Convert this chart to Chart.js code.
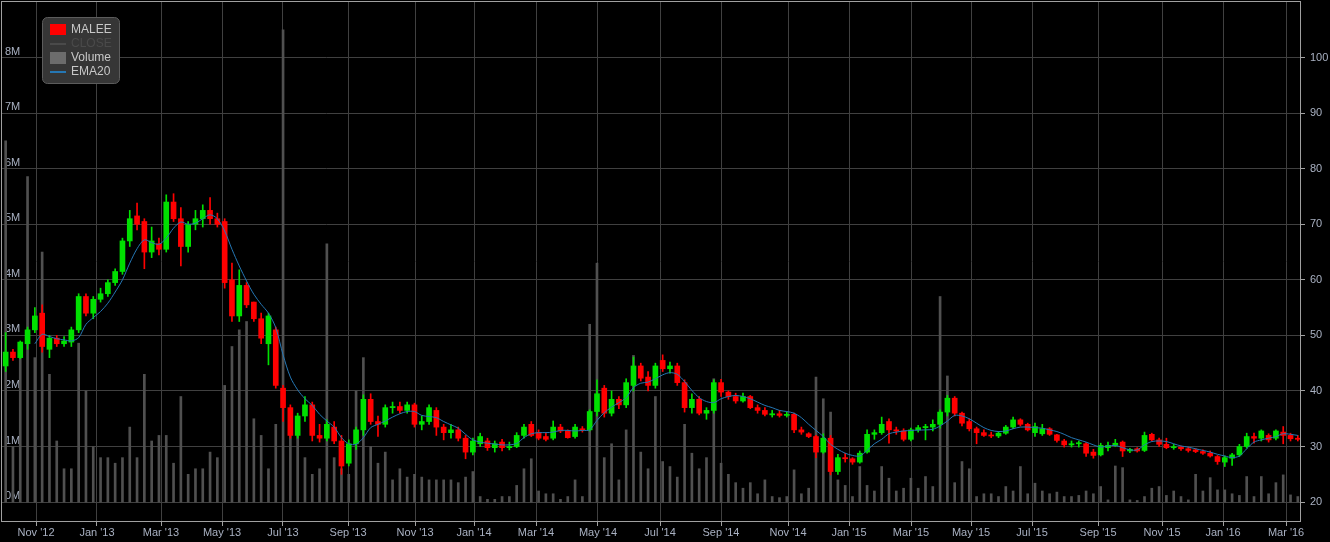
<!DOCTYPE html>
<html>
<head>
<meta charset="utf-8">
<title>MALEE</title>
<script src="https://cdn.jsdelivr.net/npm/chart.js@4.4.1/dist/chart.umd.min.js"></script>
<style>
html,body{margin:0;padding:0;background:#000;}
canvas{display:block;}
</style>
</head>
<body>
<canvas id="chart" width="1330" height="542"></canvas>
<script>

// weekly candles, Oct 2012 .. Mar 2016 (price in baht)
let open=[
44.5,47,46,48.5,51,54,47.5,49.5,48.5,48.8,
51,57,54,56.5,57.5,59.5,61.5,67,71.5,70.5,
65,66.5,65.5,74,71,66,70,71,72.5,71,
70.5,60,53.5,59,56,53,48.5,51,40.5,37,
32,35.5,37.5,32,31.5,33.5,31,27,30.5,33,
38.5,34.5,34,37,37.2,36.5,37.5,34,34.5,36.5,
33.5,32.5,33,31.5,29,30.5,31,29.8,30.8,29.8,
30,32,34,32.5,31.8,31.5,33.5,32.8,31.8,33.2,
33,36.3,40.5,36,38.5,37.5,41,44.5,42.5,41,
45.5,44,44.5,41.5,37,38.5,36,36.5,41.5,39.8,
39,38.2,39,37,36.5,35.7,35.9,35.6,35.8,33,
32.3,31.8,29,31.5,25.5,28,27.8,27.2,29,32.2,
32.5,34.5,33,32.8,31.3,33,33.4,33.5,34,36.2,
38.7,36,34.5,33.2,32.5,32,31.9,32.4,33.5,34.8,
34,32.5,32.3,33.2,32.1,31,30.3,30.5,30.5,29,
28.5,29.8,30.2,30.8,29.2,29.6,29.3,32.2,31.2,30.4,
29.8,29.9,29.6,29.4,29.1,28.8,28.2,27.2,27.9,28.5,
30,31.8,31.5,32,31.5,32.6,32,31.5];

let high=[
50.5,47.5,49,51.5,55,55.5,50,50,49.8,51.5,
57.5,57.5,57,58.5,60,62,67.5,72.5,73.8,71,
69.5,67.5,75.3,75.5,73,70.5,72.5,73.5,74.8,72,
71,63,61.8,59.5,56,54,54,51.5,41,37.5,
36,39,38,34,34.8,34.5,32,31.2,33.5,39.3,
39.5,35.5,37.5,38,38,38,37.8,35.5,37.5,37,
34,34,33.5,32,31.5,32.4,31.5,31,31.3,30.8,
32.5,34,34.5,33,32.5,34.6,34,33,34,33.6,
36.6,42,41,40,39,42.2,46.1,45,43.5,45,
46.5,45.2,45,42,39.5,39,37,42,42.1,40,
39.6,39.6,39.2,37.5,37,36.5,36.5,36.2,36,33.5,
32.5,32,32.3,32,28.6,28.8,28,29.2,33,33,
35.3,35,33.5,33.2,33.3,33.8,34,34.8,36.6,39.2,
39,36.2,35,33.5,33,32.6,32.7,33.8,35.3,35,
34.2,34.2,34,33.4,32.2,31.3,31,31,30.7,29.5,
30.6,30.8,31.3,31,29.7,29.8,32.6,32.4,31.5,31.5,
30.4,30.1,29.9,29.6,29.4,29.2,28.4,28.3,28.8,30.4,
32.4,32.4,33,32.3,33,33.6,32.4,32];

let low=[
43.5,45.5,45.8,47.5,50.5,47,46,48,48,48,
50.5,53.5,53,56,57,59,61,66,69,62,
64,64.5,65,70.5,62.5,65,69,69.5,70,69.5,
58.5,52.5,52.5,55,52.5,48.5,44.7,40.5,34.5,31.5,
31.5,34.5,31,30.8,31,30.5,25,26.5,29.5,32,
34,31.8,33.5,36,36,36,33.5,33,34,32,
31.2,31.5,31,27.8,28.5,30,29.3,29,29.2,29.4,
29.8,31.5,31.8,31.2,31,31.2,32.5,31.5,31.5,32.6,
32.8,35.5,35.3,35.5,36.8,37,40,41.8,40,40.5,
43.5,43.2,41,36.2,36,35.7,34.9,36,39,38.5,
37.8,38,36.8,36,35.5,35.3,35.3,35.3,32.5,32.2,
31.6,28,28.8,24.9,25,27.2,26.8,27,28.8,31.3,
32.2,30.6,32.2,31,31,32.6,31.2,32.8,33.3,35.5,
35.5,33.7,32.8,30.5,31.8,31.6,31.6,32.2,33.2,33.7,
32.8,31.8,32,32,30.8,29.9,29.9,29.9,28.2,27.9,
28.3,29.2,30,28.2,28.9,29,29.1,31,30,29.6,
29.5,29.3,29,28.9,28.6,28.1,26.8,26.4,26.6,28.2,
29.7,30.6,31,30.8,31.2,30.5,31,31];

let close=[
47,46,48.8,51,53.5,48,49.5,48.5,49,51,
57,54,56.5,57.5,59.5,61.5,67,71,70,65,
67,65.5,74,71,66,70,71,72.5,71,70,
59.5,53.5,59,55.5,53,49.5,53.5,41,37,32,
35.5,37.5,32,31.5,34,31,26.5,30.5,33,38.5,
34.5,34,37,37.2,36.5,37.5,34,34.5,37,33.5,
32.5,33,31.5,29,31,31.8,29.8,30.5,29.8,30,
32,33.5,32,31.5,31.3,33.5,32.8,31.6,33.5,33,
36.3,39.5,36,38.5,37.5,41.5,44.5,42.3,41,44.5,
44,44.5,41.5,37,38.5,36,36.5,41.5,39.8,39,
38.2,39,37,36.5,35.8,35.9,35.6,35.8,33,32.6,
31.8,29,31.5,25.5,28,27.8,27.2,28.8,32.2,32.5,
34,33,32.8,31.3,33,33.4,33.6,34,36.2,38.7,
36,34.2,33.2,32.5,32,31.9,32.4,33.5,34.8,34,
33,33.6,33.2,32.2,31.1,30.3,30.5,30.6,28.8,28.4,
30.2,30.2,30.6,29.2,29.5,29.2,32,31.2,30.4,29.8,
29.9,29.6,29.3,29.1,28.8,28.3,27.3,28,28.5,30,
31.8,31.5,32.8,31.2,32.8,32,31.4,31.3];

// EMA20 line as drawn on the picture
let ema20=[
null,null,null,null,48.5,50.2,49.8,49.4,49.2,49.0,
49.6,52.0,53.2,54.3,55.8,57.8,60.0,63.0,65.6,67.2,
66.7,66.4,67.5,69.3,70.4,70.0,70.2,71.0,71.7,71.0,
68.8,65.5,62.5,59.8,57.4,55.6,54.0,51.4,46.5,42.5,
40.2,38.6,37.4,35.8,34.6,33.5,31.6,30.5,30.4,31.6,
33.4,34.0,34.6,35.3,35.9,36.3,36.3,35.6,35.4,35.2,
34.5,33.9,33.3,32.2,31.2,30.8,30.6,30.45,30.3,30.3,
30.55,31.6,32.3,32.5,32.5,32.6,32.9,32.9,32.8,32.9,
33.0,34.7,36.1,37.1,37.9,38.8,40.6,41.4,41.6,42.2,
42.9,43.3,43.0,41.7,40.1,38.8,38.1,37.9,38.6,39.0,
39.2,39.0,38.6,38.0,37.4,37.0,36.5,36.3,36.0,35.2,
34.0,32.9,31.8,30.4,29.5,28.8,28.4,28.3,29.3,30.5,
31.3,32.3,32.6,32.8,32.9,32.95,33.0,33.1,33.7,34.6,
35.6,35.5,35.0,34.2,33.4,32.9,32.7,32.8,33.2,33.5,
33.5,33.4,33.3,33.0,32.7,32.2,31.6,31.2,30.8,30.3,
29.9,30.1,30.2,29.8,29.4,29.4,30.3,30.9,31.0,30.9,
30.5,30.1,29.9,29.6,29.3,29.0,28.6,28.3,28.0,28.3,
29.6,30.8,31.2,31.5,31.8,32.3,32.2,32.0];

// volume, millions of shares
let volume=[
6.5,1.0,2.6,5.86,2.6,4.5,2.3,1.1,0.6,0.6,
2.86,2.0,1.0,0.8,0.8,0.7,0.8,1.35,0.8,2.3,
1.1,1.2,1.2,0.7,1.9,0.5,0.6,0.6,0.9,0.8,
2.1,2.8,3.1,3.25,1.5,1.2,0.6,1.4,8.5,1.4,
1.2,0.8,0.5,0.6,4.65,0.8,0.6,0.5,2.0,2.6,
1.0,0.7,0.9,0.4,0.6,0.45,0.5,0.45,0.4,0.4,
0.4,0.4,0.35,0.45,0.55,0.1,0.05,0.05,0.1,0.1,
0.3,0.6,0.78,0.2,0.15,0.15,0.05,0.1,0.4,0.1,
3.2,4.3,0.8,1.05,0.4,1.3,2.64,0.9,0.6,1.9,
0.73,0.64,0.45,1.4,0.88,0.6,0.8,2.22,0.7,0.5,
0.35,0.25,0.35,0.15,0.4,0.1,0.08,0.1,0.58,0.15,
0.25,2.25,1.86,1.62,0.4,0.3,0.1,0.64,0.3,0.2,
0.64,0.43,0.2,0.25,0.43,0.25,0.46,0.28,3.7,2.27,
0.35,0.73,0.6,0.1,0.15,0.15,0.1,0.28,0.2,0.64,
0.15,0.34,0.2,0.15,0.18,0.1,0.1,0.12,0.2,0.15,
0.28,0.04,0.65,0.62,0.04,0.03,0.1,0.25,0.28,0.12,
0.2,0.1,0.04,0.5,0.2,0.44,0.22,0.22,0.15,0.12,
0.46,0.1,0.46,0.15,0.35,0.49,0.13,0.1];

// month ticks, position in weeks from first bar
let monthPos=[4.16,12.51,21.28,29.64,37.99,46.9,56.08,64.16,72.65,81.14,89.64,97.99,107.17,115.53,124.02,132.24,140.6,149.64,158.4,166.76,175.39];
let monthLabels=["Nov '12","Jan '13","Mar '13","May '13","Jul '13","Sep '13","Nov '13","Jan '14","Mar '14","May '14","Jul '14","Sep '14","Nov '14","Jan '15","Mar '15","May '15","Jul '15","Sep '15","Nov '15","Jan '16","Mar '16"];
let priceTicks=[20,30,40,50,60,70,80,90,100];
let volTicks=[0,1,2,3,4,5,6,7,8];

let UP="#00e000";
let DOWN="#ff0000";
let DOJI="#ffff00";
let GRID="#404040";
let FRAME="#a0a0a0";
let LABEL="#a9b1c2";

let weeks=close.map(function(v,i){return i;});
let colors=weeks.map(function(i){
if(close[i]>open[i]) return UP;
if(close[i]<open[i]) return DOWN;
return DOJI;
});

Chart.defaults.font.family='"Liberation Sans", Arial, sans-serif';
Chart.defaults.font.size=11;

function noPad(s){
s.paddingTop=0;
s.paddingBottom=0;
s.paddingLeft=0;
s.paddingRight=0;
}

// frame round the plot area
let frame={
id:"frame",
afterDraw:function(chart){
let a=chart.chartArea;
let c=chart.ctx;
c.save();
c.strokeStyle=FRAME;
c.lineWidth=1;
c.strokeRect(a.left-0.5,a.top-0.5,a.right-a.left+1,a.bottom-a.top+1);
c.restore();
}
};

// legend box in the top left corner
let legendBox={
id:"legendBox",
afterDraw:function(chart){
let c=chart.ctx;
c.save();
c.beginPath();
c.roundRect(42.5,17.5,77,66,5);
c.fillStyle="#363636";
c.fill();
c.strokeStyle="#5c5c5c";
c.lineWidth=1;
c.stroke();

c.font='12px "Liberation Sans", Arial, sans-serif';
c.textBaseline="middle";
c.textAlign="left";

c.fillStyle=DOWN;
c.fillRect(50,24,16,11);
c.fillStyle="#c8c8c8";
c.fillText("MALEE",71,30);

c.strokeStyle="#4a4a4a";
c.lineWidth=2;
c.beginPath();c.moveTo(50,44);c.lineTo(66,44);c.stroke();
c.fillStyle="#4a4a4a";
c.fillText("CLOSE",71,44);

c.fillStyle="#6c6c6c";
c.fillRect(50,52,16,12);
c.fillStyle="#c8c8c8";
c.fillText("Volume",71,58);

c.strokeStyle="#2577b4";
c.beginPath();c.moveTo(50,72);c.lineTo(66,72);c.stroke();
c.fillStyle="#c8c8c8";
c.fillText("EMA20",71,72);
c.restore();
}
};

new Chart(document.getElementById("chart"),{

type:"bar",

data:{
datasets:[
{
label:"EMA20",
type:"line",
data:weeks.map(function(i){return {x:i,y:ema20[i]};}),
borderColor:"#2577b4",
borderWidth:1,
pointRadius:0,
tension:0.3,
yAxisID:"yPrice",
order:1
},
{
label:"MALEE",
data:weeks.map(function(i){return {x:i,y:[open[i],close[i]]};}),
backgroundColor:colors,
barThickness:5,
minBarLength:1,
grouped:false,
yAxisID:"yPrice",
order:2
},
{
label:"wick",
data:weeks.map(function(i){return {x:i,y:[low[i],high[i]]};}),
backgroundColor:colors,
barThickness:1,
grouped:false,
yAxisID:"yPrice",
order:3
},
{
label:"CLOSE",
type:"line",
hidden:true,
data:weeks.map(function(i){return {x:i,y:close[i]};}),
borderColor:"#4a4a4a",
pointRadius:0,
yAxisID:"yPrice",
order:4
},
{
label:"Volume",
data:weeks.map(function(i){return {x:i,y:volume[i]};}),
backgroundColor:"#505050",
barThickness:2,
grouped:false,
yAxisID:"yVol",
order:5
}
]
},

options:{
responsive:false,
animation:false,
devicePixelRatio:1,
layout:{padding:{top:2,left:0,right:0,bottom:0}},
plugins:{legend:{display:false},tooltip:{enabled:false}},
scales:{
x:{
type:"linear",
min:-0.5,
max:177.3,
offset:false,
grid:{color:GRID,offset:false,tickLength:5,tickColor:FRAME},
border:{display:false},
ticks:{color:LABEL,padding:0,autoSkip:false,maxRotation:0,minRotation:0,
callback:function(v,i){return monthLabels[i];}},
afterBuildTicks:function(s){s.ticks=monthPos.map(function(v){return {value:v};});},
afterFit:function(s){s.height=21;noPad(s);}
},
yPrice:{
type:"linear",
position:"right",
min:16.6,
max:110,
grid:{color:GRID,tickLength:5,tickColor:FRAME},
border:{display:false},
ticks:{color:LABEL,padding:5},
afterBuildTicks:function(s){s.ticks=priceTicks.map(function(v){return {value:v};});},
afterFit:function(s){s.width=30;noPad(s);}
},
yVol:{
type:"linear",
position:"left",
z:1,
min:-0.34,
max:9.0,
grid:{display:false},
border:{display:false},
ticks:{color:LABEL,mirror:true,padding:3,labelOffset:-6,
callback:function(v){return v+"M";}},
afterBuildTicks:function(s){s.ticks=volTicks.map(function(v){return {value:v};});},
afterFit:function(s){s.width=2;noPad(s);}
}
}
},

plugins:[frame,legendBox]

});

</script>
</body>
</html>
